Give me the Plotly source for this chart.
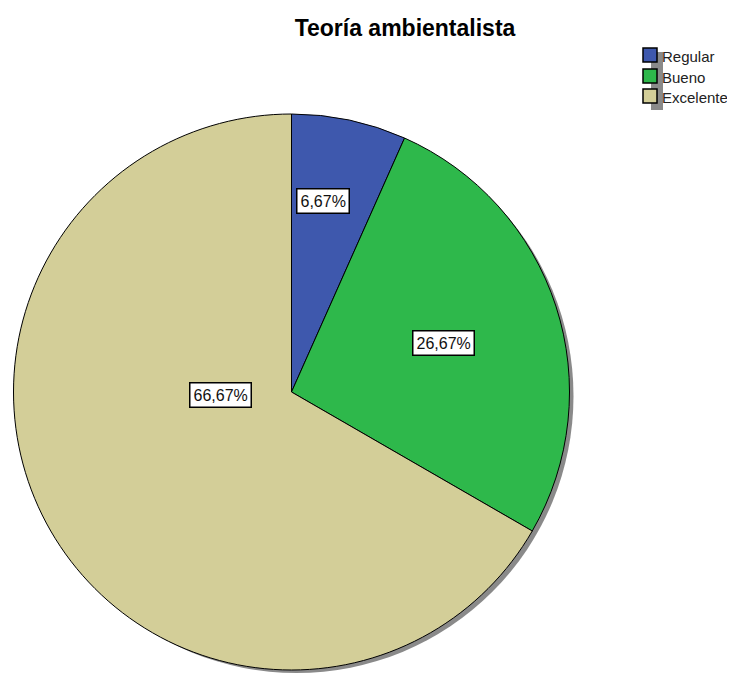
'''
    Pie chart: Teoría ambientalista (SPSS style).
'''
import plotly.graph_objects as go

categories = ['Regular', 'Bueno', 'Excelente']
counts = [1, 4, 10]
colors = ['#3e58ad', '#2eb84b', '#d3ce98']

# page body has an 8px margin, so the figure starts at (8, 8)
OFF = 8
W, H = 735 - OFF, 673 - OFF


def px_x(v):
    return min(1, max(0, (v - OFF) / W))


def px_y(v):
    return min(1, max(0, 1 - (v - OFF) / H))


total = sum(counts)
pct_labels = [('%.2f%%' % (100 * c / total)).replace('.', ',') for c in counts]

# label box centres (page pixels)
label_pos = [(323, 188), (443, 343), (189, 395)]

pie_box = dict(x0=13, x1=570, y0=114, y1=670)
shadow_off = 5

fig = go.Figure()

# gray drop shadow behind the pie
fig.add_trace(go.Pie(
    values=[1], labels=['shadow'], showlegend=False,
    marker=dict(colors=['#8a8a8a'], line=dict(width=0)),
    textinfo='none', hoverinfo='skip', sort=False,
    domain=dict(x=[px_x(pie_box['x0'] + shadow_off), px_x(pie_box['x1'] + shadow_off)],
                y=[px_y(pie_box['y1'] + shadow_off), px_y(pie_box['y0'] + shadow_off)]),
))

fig.add_trace(go.Pie(
    values=counts, labels=categories, sort=False, direction='clockwise',
    rotation=0, textinfo='none', showlegend=False,
    marker=dict(colors=colors, line=dict(color='#000000', width=1)),
    domain=dict(x=[px_x(pie_box['x0']), px_x(pie_box['x1'])],
                y=[px_y(pie_box['y1']), px_y(pie_box['y0'])]),
))

for txt, (lx, ly) in zip(pct_labels, label_pos):
    fig.add_annotation(
        x=px_x(lx), y=px_y(ly), xref='paper', yref='paper',
        text=txt, showarrow=False,
        font=dict(size=16, color='#111111', family='Arial'),
        bgcolor='#ffffff', bordercolor='#000000', borderwidth=1.5, borderpad=3,
    )

# legend, drawn SPSS-like: shadow column, swatches, labels
fig.add_shape(type='rect', xref='paper', yref='paper',
              x0=px_x(651), x1=px_x(663), y0=px_y(110), y1=px_y(52),
              fillcolor='#8a8a8a', line=dict(width=0))
leg_y = [55, 76, 96]
for name, col, cy in zip(categories, colors, leg_y):
    fig.add_shape(type='rect', xref='paper', yref='paper',
                  x0=px_x(643), x1=px_x(657), y0=px_y(cy + 7), y1=px_y(cy - 7),
                  fillcolor=col, line=dict(color='#000000', width=1.5))
    fig.add_annotation(x=px_x(660), y=px_y(cy + 1), xref='paper', yref='paper',
                       xanchor='left', yanchor='middle', showarrow=False,
                       text=name, font=dict(size=15, family='Arial', color='#222222'))

fig.update_layout(
    width=W, height=H,
    margin=dict(l=0, r=0, t=0, b=0),
    paper_bgcolor='#ffffff', plot_bgcolor='#ffffff',
    font=dict(family='Arial', color='#000000'),
    showlegend=False,
    title=dict(text='<b>Teoría ambientalista</b>', x=px_x(405), y=px_y(28),
               xanchor='center', yanchor='middle',
               font=dict(size=23, family='Arial', color='#000000')),
)

fig.write_html('out.html')
